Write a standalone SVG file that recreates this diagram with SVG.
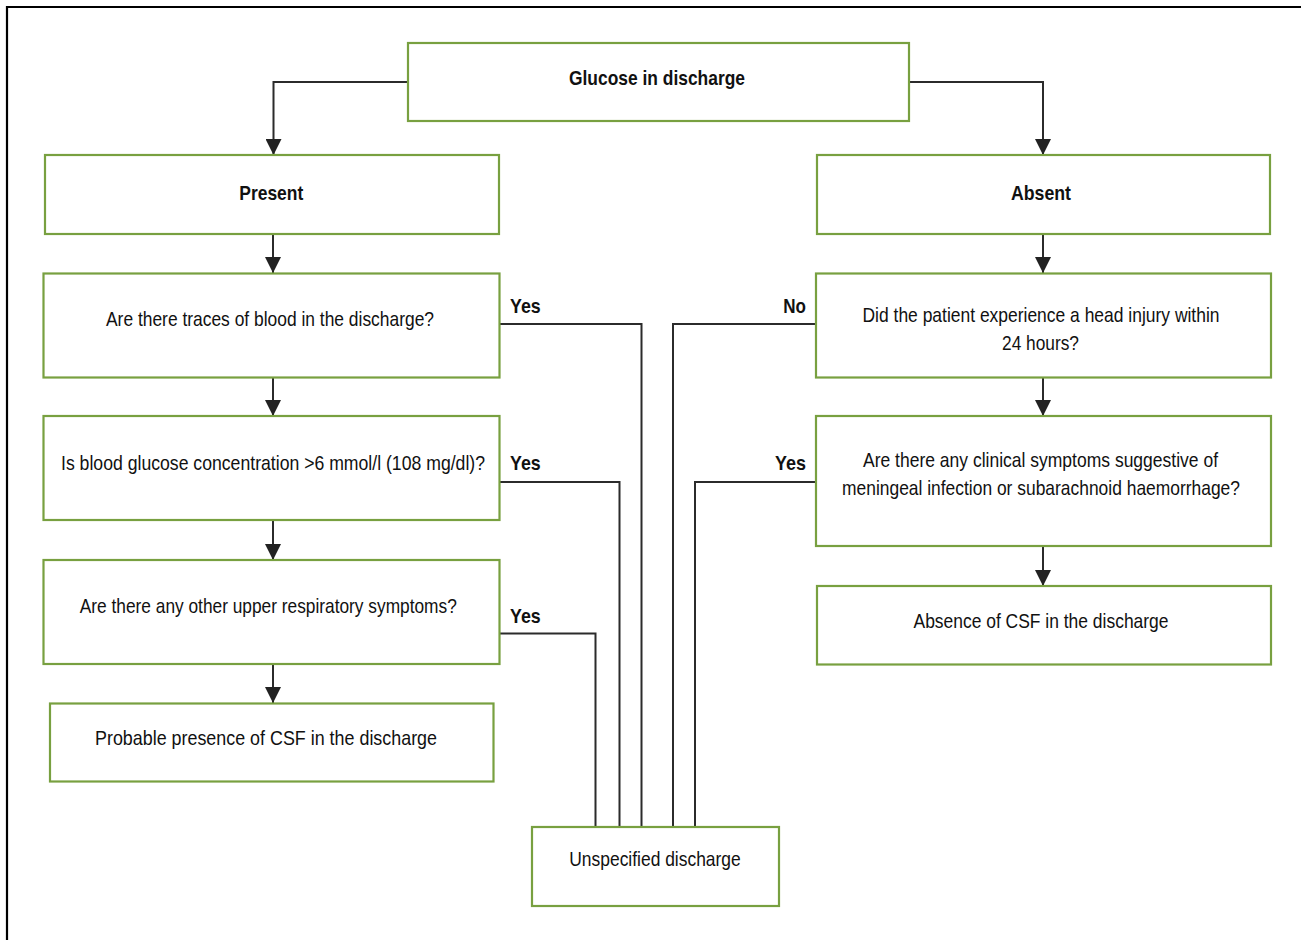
<svg xmlns="http://www.w3.org/2000/svg" width="1301" height="940" viewBox="0 0 1301 940">
<style>
.box{fill:#ffffff;stroke:#78a040;stroke-width:2.2}
.t{font-family:"Liberation Sans Narrow","Liberation Sans",Arial,sans-serif;font-size:21px;fill:#111;text-anchor:middle}
.b{font-weight:bold}
.lbl{font-family:"Liberation Sans Narrow","Liberation Sans",Arial,sans-serif;font-size:21px;font-weight:bold;fill:#111}
.c{fill:none;stroke:#2b2b2b;stroke-width:2}
</style>
<defs>
<marker id="arr" markerUnits="userSpaceOnUse" markerWidth="16" markerHeight="16" refX="14" refY="7" orient="auto" viewBox="0 0 14 14">
<path d="M0,0 L14,7 L0,14 z" fill="#222"/>
</marker>
</defs>
<rect width="1301" height="940" fill="#ffffff"/>
<path d="M7,940 V7 H1301" fill="none" stroke="#000" stroke-width="2.2"/>

<g id="connectors">
<path class="c" d="M408,82 H273.5 V155" marker-end="url(#arr)"/>
<path class="c" d="M909,82 H1043 V155" marker-end="url(#arr)"/>
<path class="c" d="M273,234 V273" marker-end="url(#arr)"/>
<path class="c" d="M273,377.5 V416" marker-end="url(#arr)"/>
<path class="c" d="M273,520 V560" marker-end="url(#arr)"/>
<path class="c" d="M273,664 V703" marker-end="url(#arr)"/>
<path class="c" d="M1043,234 V273" marker-end="url(#arr)"/>
<path class="c" d="M1043,377.5 V416" marker-end="url(#arr)"/>
<path class="c" d="M1043,546 V586" marker-end="url(#arr)"/>
<path class="c" d="M499.5,324 H641.5 V827"/>
<path class="c" d="M499.5,482 H619.5 V827"/>
<path class="c" d="M499.5,633.5 H595.5 V827"/>
<path class="c" d="M816,324 H673 V827"/>
<path class="c" d="M816,482 H695 V827"/>
<text class="lbl" x="510" y="312.5" textLength="30.7" lengthAdjust="spacingAndGlyphs">Yes</text>
<text class="lbl" x="510" y="470" textLength="30.7" lengthAdjust="spacingAndGlyphs">Yes</text>
<text class="lbl" x="510" y="622.5" textLength="30.7" lengthAdjust="spacingAndGlyphs">Yes</text>
<text class="lbl" x="783.3" y="312.5" textLength="22.7" lengthAdjust="spacingAndGlyphs">No</text>
<text class="lbl" x="775" y="470" textLength="31" lengthAdjust="spacingAndGlyphs">Yes</text>
</g>

<g id="glucose">
<rect class="box" x="408" y="43" width="501" height="78"/>
<text class="t b" x="657" y="85" textLength="176" lengthAdjust="spacingAndGlyphs">Glucose in discharge</text>
</g>
<g id="present">
<rect class="box" x="45" y="155" width="454" height="79"/>
<text class="t b" x="271.3" y="200" textLength="64" lengthAdjust="spacingAndGlyphs">Present</text>
</g>
<g id="absent">
<rect class="box" x="817" y="155" width="453" height="79"/>
<text class="t b" x="1041" y="200" textLength="60" lengthAdjust="spacingAndGlyphs">Absent</text>
</g>
<g id="blood">
<rect class="box" x="43.5" y="273.5" width="456" height="104"/>
<text class="t" x="270" y="326" textLength="328" lengthAdjust="spacingAndGlyphs">Are there traces of blood in the discharge?</text>
</g>
<g id="bloodglucose">
<rect class="box" x="43.5" y="416" width="456" height="104"/>
<text class="t" x="273" y="470" textLength="424" lengthAdjust="spacingAndGlyphs">Is blood glucose concentration &gt;6 mmol/l (108 mg/dl)?</text>
</g>
<g id="respiratory">
<rect class="box" x="43.5" y="560" width="456" height="104"/>
<text class="t" x="268.3" y="613" textLength="377" lengthAdjust="spacingAndGlyphs">Are there any other upper respiratory symptoms?</text>
</g>
<g id="probable">
<rect class="box" x="50" y="703.5" width="443.5" height="78"/>
<text class="t" x="266" y="745" textLength="342" lengthAdjust="spacingAndGlyphs">Probable presence of CSF in the discharge</text>
</g>
<g id="headinjury">
<rect class="box" x="816" y="273.5" width="455" height="104"/>
<text class="t" x="1041" y="321.7" textLength="357" lengthAdjust="spacingAndGlyphs">Did the patient experience a head injury within</text>
<text class="t" x="1040.5" y="350" textLength="77" lengthAdjust="spacingAndGlyphs">24 hours?</text>
</g>
<g id="clinical">
<rect class="box" x="816" y="416" width="455" height="130"/>
<text class="t" x="1040.5" y="466.7" textLength="355" lengthAdjust="spacingAndGlyphs">Are there any clinical symptoms suggestive of</text>
<text class="t" x="1041" y="495" textLength="398" lengthAdjust="spacingAndGlyphs">meningeal infection or subarachnoid haemorrhage?</text>
</g>
<g id="absence">
<rect class="box" x="817" y="586" width="454" height="78.5"/>
<text class="t" x="1041" y="627.7" textLength="255" lengthAdjust="spacingAndGlyphs">Absence of CSF in the discharge</text>
</g>
<g id="unspecified">
<rect class="box" x="532" y="827" width="247" height="79"/>
<text class="t" x="655" y="866" textLength="171.5" lengthAdjust="spacingAndGlyphs">Unspecified discharge</text>
</g>
</svg>
